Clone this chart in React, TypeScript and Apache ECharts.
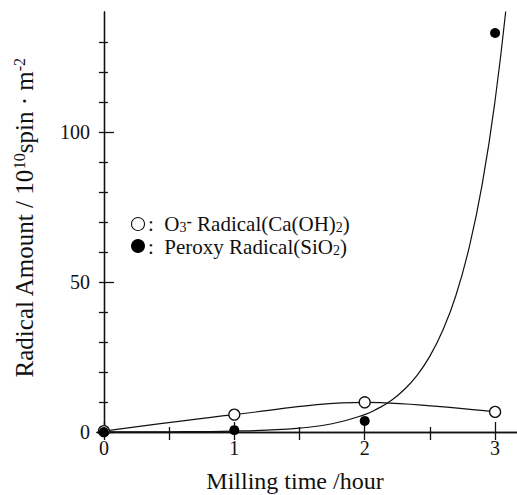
import React, { useEffect, useRef } from "react";
import * as echarts from "echarts";

// Data
const hours = [0, 1, 2, 3];
const o3Radical = [0.3, 5.8, 9.9, 6.7]; // open circles, Ca(OH)2
const peroxyRadical = [0, 0.6, 3.7, 133]; // filled circles, SiO2
// fitted curve through the peroxy data, as traced on the picture
const fitX = [0, 0.25, 0.5, 0.75, 1, 1.25, 1.5, 1.75, 2, 2.1, 2.2, 2.3, 2.4, 2.5, 2.6, 2.7, 2.8, 2.9, 3.0, 3.1];
const fitY = [0.02, 0.03, 0.07, 0.14, 0.3, 0.63, 1.3, 2.75, 5.8, 7.8, 10.4, 14, 18.8, 25.3, 34, 45.6, 61.3, 82.3, 110.5, 148];

const xMajor = [0, 1, 2, 3];
const xMinor = [0.5, 1.5, 2.5];
const xTop = [0, 0.5, 1, 1.5, 2, 2.5, 3];
const yMajor = [0, 50, 100];
const yMinor = [10, 20, 30, 40, 60, 70, 80, 90, 110, 120, 130];
const yRight = [10, 20, 30, 40, 50, 60, 70, 80, 90, 100, 110, 120, 130];

const SERIF = "serif";
const INK = "#111";

export default function App() {
  const ref = useRef<HTMLDivElement>(null);
  useEffect(() => {
    if (!ref.current) return;
    const chart = echarts.init(ref.current, undefined, { renderer: "svg" });
    const xMin = -0.053;
    const xMax = 3.168;
    const lineStyle = { color: INK, width: 1.3 };
    const baseX = {
      type: "value" as const,
      gridIndex: 0,
      min: xMin,
      max: xMax,
      splitLine: { show: false },
    };
    const baseY = {
      type: "value" as const,
      gridIndex: 0,
      min: 0,
      max: 140,
      interval: 10,
      splitLine: { show: false },
    };
    chart.setOption({
      animation: false,
      backgroundColor: "#fff",
      textStyle: { fontFamily: SERIF },
      grid: { left: 97, top: 12, width: 422, height: 420, containLabel: false },
      xAxis: [
        {
          ...baseX,
          position: "bottom",
          axisLine: { show: true, lineStyle },
          axisTick: { show: true, inside: true, length: 10, customValues: xMajor, lineStyle },
          axisLabel: {
            show: true,
            customValues: xMajor,
            margin: 6,
            fontFamily: SERIF,
            fontSize: 20,
            color: INK,
          },
        },
        {
          ...baseX,
          position: "bottom",
          axisLine: { show: false },
          axisTick: { show: true, inside: true, length: 5, customValues: xMinor, lineStyle },
          axisLabel: { show: false },
        },
        {
          ...baseX,
          position: "top",
          axisLine: { show: true, lineStyle },
          axisTick: { show: true, inside: true, length: 8, customValues: xTop, lineStyle },
          axisLabel: { show: false },
        },
      ],
      yAxis: [
        {
          ...baseY,
          position: "left",
          axisLine: { show: true, lineStyle },
          axisTick: { show: true, inside: true, length: 10, customValues: yMajor, lineStyle },
          axisLabel: {
            show: true,
            customValues: yMajor,
            margin: 7,
            fontFamily: SERIF,
            fontSize: 20,
            color: INK,
          },
        },
        {
          ...baseY,
          position: "left",
          axisLine: { show: false },
          axisTick: { show: true, inside: true, length: 4, customValues: yMinor, lineStyle },
          axisLabel: { show: false },
        },
        {
          ...baseY,
          position: "right",
          axisLine: { show: true, lineStyle },
          axisTick: { show: true, inside: true, length: 5, customValues: yRight, lineStyle },
          axisLabel: { show: false },
        },
      ],
      series: [
        {
          type: "line",
          xAxisIndex: 0,
          yAxisIndex: 0,
          data: fitX.map((x, i) => [x, fitY[i]]),
          smooth: 0.5,
          showSymbol: false,
          symbol: "none",
          clip: true,
          lineStyle: { color: INK, width: 1.2 },
          z: 2,
        },
        {
          type: "line",
          xAxisIndex: 0,
          yAxisIndex: 0,
          data: hours.map((x, i) => [x, o3Radical[i]]),
          smooth: 0.35,
          symbol: "circle",
          symbolSize: 11,
          itemStyle: { color: "#fff", borderColor: INK, borderWidth: 1.3, opacity: 1 },
          lineStyle: { color: INK, width: 1.2 },
          z: 3,
        },
        {
          type: "scatter",
          xAxisIndex: 0,
          yAxisIndex: 0,
          data: hours.map((x, i) => [x, peroxyRadical[i]]),
          symbol: "circle",
          symbolSize: 10,
          itemStyle: { color: "#000", opacity: 1 },
          z: 4,
        },
      ],
      graphic: [
        {
          type: "text",
          x: 24,
          y: 218,
          rotation: Math.PI / 2,
          style: {
            text: "{a|Radical Amount / 10}{s|10}{a|spin · m}{s|-2}",
            align: "center",
            verticalAlign: "middle",
            fill: INK,
            rich: {
              a: { fontFamily: SERIF, fontSize: 25, fill: INK, verticalAlign: "bottom" },
              s: { fontFamily: SERIF, fontSize: 16, fill: INK, verticalAlign: "top" },
            },
          },
        },
        {
          type: "text",
          x: 295,
          y: 481,
          style: {
            text: "Milling time /hour",
            fontFamily: SERIF,
            fontSize: 24,
            fill: INK,
            align: "center",
            verticalAlign: "middle",
          },
        },
        {
          type: "circle",
          shape: { cx: 138, cy: 224, r: 6.5 },
          style: { fill: "#fff", stroke: INK, lineWidth: 1.1 },
        },
        {
          type: "circle",
          shape: { cx: 138, cy: 246, r: 7 },
          style: { fill: "#000" },
        },
        {
          type: "text",
          x: 148,
          y: 224,
          style: {
            text: "{a|:  O}{b|3}{c|-}{a| Radical(Ca(OH)}{b|2}{a|)}",
            verticalAlign: "middle",
            align: "left",
            rich: {
              a: { fontFamily: SERIF, fontSize: 21, fill: INK, verticalAlign: "bottom" },
              b: { fontFamily: SERIF, fontSize: 14, fill: INK, verticalAlign: "bottom" },
              c: { fontFamily: SERIF, fontSize: 16, fontWeight: "bold", fill: INK, verticalAlign: "top" },
            },
          },
        },
        {
          type: "text",
          x: 148,
          y: 247,
          style: {
            text: "{a|:  Peroxy Radical(SiO}{b|2}{a|)}",
            verticalAlign: "middle",
            align: "left",
            rich: {
              a: { fontFamily: SERIF, fontSize: 21, fill: INK, verticalAlign: "bottom" },
              b: { fontFamily: SERIF, fontSize: 14, fill: INK, verticalAlign: "bottom" },
            },
          },
        },
      ],
    });
    return () => chart.dispose();
  }, []);
  return (
    <div
      ref={ref}
      style={{ position: "absolute", left: 0, top: 0, width: 517, height: 495 }}
    />
  );
}
